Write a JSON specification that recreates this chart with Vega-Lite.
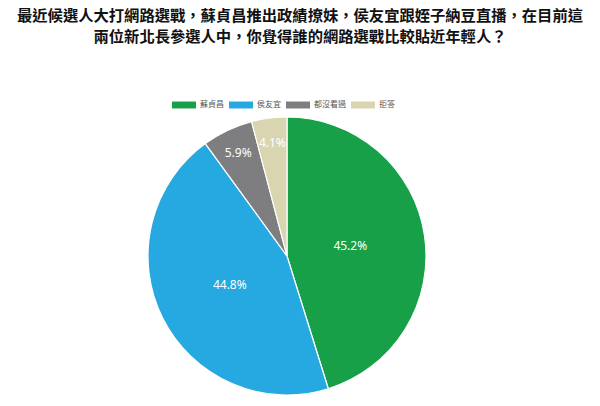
{
  "$schema": "https://vega.github.io/schema/vega-lite/v6.json",
  "width": 574,
  "height": 300,
  "autosize": "none",
  "padding": {"left": 0, "top": 106, "right": 26, "bottom": 0},
  "background": "white",
  "title": {
    "text": ["最近候選人大打網路選戰，蘇貞昌推出政績撩妹，侯友宜跟姪子納豆直播，在目前這", "兩位新北長參選人中，你覺得誰的網路選戰比較貼近年輕人？"],
    "font": "Noto Sans CJK TC",
    "fontSize": 15.3,
    "fontWeight": "bold",
    "color": "#111",
    "lineHeight": 21,
    "anchor": "middle",
    "dx": 13,
    "offset": 48
  },
  "data": {
    "values": [
      {"name": "蘇貞昌", "pct": 45.2, "label": "45.2%", "size": "big"},
      {"name": "侯友宜", "pct": 44.8, "label": "44.8%", "size": "big"},
      {"name": "都沒看過", "pct": 5.9, "label": "5.9%", "size": "small"},
      {"name": "拒答", "pct": 4.1, "label": "4.1%", "size": "small"}
    ]
  },
  "transform": [
    {"calculate": "indexof(['蘇貞昌','侯友宜','都沒看過','拒答'], datum.name)", "as": "order"},
    {"stack": "pct", "groupby": [], "sort": [{"field": "order"}], "as": ["p0", "p1"]},
    {"calculate": "(datum.p0 + datum.p1) / 2", "as": "mid"}
  ],
  "encoding": {
    "color": {
      "field": "name",
      "type": "nominal",
      "sort": ["蘇貞昌", "侯友宜", "都沒看過", "拒答"],
      "scale": {
        "domain": ["蘇貞昌", "侯友宜", "都沒看過", "拒答"],
        "range": ["#17a047", "#25a9e0", "#7e7e80", "#d8d5b0"]
      },
      "legend": {
        "title": null,
        "orient": "none",
        "legendX": 172,
        "legendY": -13,
        "direction": "horizontal",
        "symbolType": "M-1,-0.29L1,-0.29L1,0.29L-1,0.29Z",
        "symbolSize": 576,
        "symbolStrokeWidth": 0,
        "symbolOffset": 0,
        "labelOffset": 4,
        "labelFont": "Noto Sans CJK TC",
        "labelFontSize": 8,
        "labelColor": "#555",
        "columnPadding": 5
      }
    }
  },
  "layer": [
    {
      "mark": {"type": "arc", "outerRadius": 139, "stroke": "white", "strokeWidth": 1.2},
      "encoding": {
        "theta": {"field": "p0", "type": "quantitative", "scale": {"domain": [0, 100]}},
        "theta2": {"field": "p1"}
      }
    },
    {
      "transform": [{"filter": "datum.size == 'big'"}],
      "mark": {"type": "text", "radius": 64, "font": "Noto Sans", "fontSize": 12},
      "encoding": {
        "theta": {"field": "mid", "type": "quantitative", "scale": {"domain": [0, 100]}},
        "text": {"field": "label"},
        "color": {"value": "white"}
      }
    },
    {
      "transform": [{"filter": "datum.size == 'small'"}],
      "mark": {"type": "text", "radius": 114, "font": "Noto Sans", "fontSize": 12},
      "encoding": {
        "theta": {"field": "mid", "type": "quantitative", "scale": {"domain": [0, 100]}},
        "text": {"field": "label"},
        "color": {"value": "white"}
      }
    }
  ]
}
